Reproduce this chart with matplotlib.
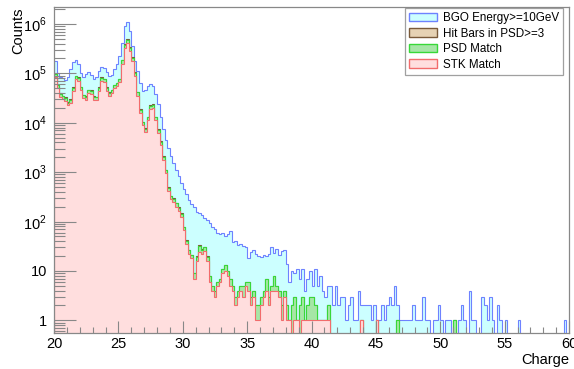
import numpy as np
import matplotlib
matplotlib.use("Agg")
import matplotlib.pyplot as plt
from matplotlib.patches import Patch

plt.rcParams['font.family'] = ['Liberation Sans', 'DejaVu Sans']
plt.rcParams['mathtext.fontset'] = 'custom'
plt.rcParams['mathtext.rm'] = 'Liberation Sans'

# charge histogram, 200 bins from 20 to 60
edges = np.linspace(20, 60, 201)

bgo = [
    178000, 100000, 83000, 79000, 74000, 83000, 120000, 166000, 186000, 151000,
    100000, 85000, 95000, 105000, 93000, 78000, 83000, 112000, 132000, 126000,
    105000, 89000, 93000, 120000, 158000, 224000, 417000, 891000, 1096000, 708000,
    355000, 178000, 112000, 63000, 44000, 46000, 56000, 62000, 55000, 38000,
    24000, 13200, 7600, 4570, 3020, 2090, 1510, 1120, 850, 600,
    457, 355, 275, 229, 200, 158, 151, 138, 117, 110,
    95, 79, 71, 60, 55, 58, 52, 56, 63, 38,
    40, 33, 35, 32, 30, 18, 24, 26, 22, 20,
    19, 21, 20, 22, 30, 23, 28, 21, 25, 26,
    14, 6, 10, 9, 11, 7, 11, 4, 7, 10,
    5, 11, 5, 8, 4, 3, 5, 5, 2, 5,
    2, 3, 3, 1, 2, 3, 1, 1, 4, 2,
    2, 2, 2, 1, 2, 1, 1, 2, 1, 2,
    3, 2, 5, 2, 1, 1, 1, 1, 1, 2,
    1, 1, 1, 3, 1, 1, 0, 1, 1, 2,
    1, 0, 1, 1, 0, 1, 0, 1, 2, 1,
    0, 4, 1, 1, 0, 0, 3, 2, 1, 3,
    1, 0, 2, 1, 0, 1, 0, 0, 0, 0,
    1, 0, 0, 0, 0, 0, 0, 0, 0, 0,
    0, 0, 0, 0, 0, 0, 0, 0, 1, 0,
]

hit_bars = [
    98000, 59000, 39500, 35000, 33000, 26300, 30000, 52500, 90000, 83500,
    53500, 37000, 34000, 46500, 45000, 34000, 33500, 52500, 83500, 78500,
    52500, 41300, 47000, 59000, 65000, 78500, 188000, 392000, 495000, 334000,
    211000, 105000, 42300, 18800, 10500, 7800, 13300, 22500, 23700, 13300,
    7400, 4200, 2110, 1130, 495, 335, 298, 238, 195, 149,
    78, 42, 27, 21, 9, 20, 33, 28, 31, 20,
    8, 5, 4, 6, 7, 11, 13, 10, 7, 5,
    3, 4, 5, 5, 6, 6, 3, 4, 2, 2,
    3, 4, 7, 3, 5, 8, 5, 4, 2, 4,
    2, 1, 2, 3, 1, 2, 3, 1, 2, 3,
    3, 2, 1, 1, 1, 1, 2, 0, 0, 0,
    0, 0, 0, 0, 0, 0, 0, 0, 0, 1,
    0, 0, 0, 0, 0, 1, 0, 0, 0, 0,
    0, 0, 0, 1, 0, 0, 0, 0, 0, 0,
    0, 0, 0, 0, 0, 0, 0, 0, 0, 0,
    0, 0, 0, 0, 0, 1, 0, 0, 0, 0,
    0, 0, 0, 0, 0, 0, 0, 0, 0, 0,
    0, 0, 0, 0, 0, 0, 0, 0, 0, 0,
    0, 0, 0, 0, 0, 0, 0, 0, 0, 0,
    0, 0, 0, 0, 0, 0, 0, 0, 0, 0,
]

psd_match = [
    95000, 57000, 38000, 34000, 32000, 25500, 29000, 51000, 87000, 81000,
    52000, 36000, 33000, 45000, 43500, 33000, 32500, 51000, 81000, 76000,
    51000, 40000, 45500, 57500, 63000, 76000, 182000, 380000, 480000, 324000,
    205000, 102000, 41000, 18200, 10200, 7600, 12900, 21800, 23000, 12900,
    7200, 4100, 2050, 1100, 480, 325, 290, 232, 190, 145,
    76, 41, 26, 21, 9, 19, 32, 27, 30, 19,
    8, 5, 4, 6, 7, 11, 13, 10, 7, 5,
    3, 4, 5, 5, 6, 6, 3, 4, 2, 2,
    3, 4, 7, 3, 5, 8, 5, 4, 2, 4,
    2, 1, 2, 3, 1, 2, 3, 1, 2, 3,
    3, 2, 1, 1, 1, 1, 2, 0, 0, 0,
    0, 0, 0, 0, 0, 0, 0, 0, 0, 1,
    0, 0, 0, 0, 0, 1, 0, 0, 0, 0,
    0, 0, 0, 1, 0, 0, 0, 0, 0, 0,
    0, 0, 0, 0, 0, 0, 0, 0, 0, 0,
    0, 0, 0, 0, 0, 1, 0, 0, 0, 0,
    0, 0, 0, 0, 0, 0, 0, 0, 0, 0,
    0, 0, 0, 0, 0, 0, 0, 0, 0, 0,
    0, 0, 0, 0, 0, 0, 0, 0, 0, 0,
    0, 0, 0, 0, 0, 0, 0, 0, 0, 0,
]

stk_match = [
    83000, 50000, 33000, 30000, 28000, 22400, 25100, 44700, 75900, 70800,
    45700, 31600, 28800, 39800, 38000, 28800, 28200, 44700, 70800, 66100,
    44700, 34700, 39800, 50100, 55000, 66000, 158000, 331000, 417000, 282000,
    178000, 89000, 35500, 15800, 8900, 6600, 11200, 19000, 20000, 11200,
    6300, 3550, 1780, 955, 417, 282, 251, 200, 166, 126,
    66, 35, 22, 18, 7, 16, 24, 22, 25, 16,
    6, 4, 3, 5, 6, 9, 10, 8, 5, 4,
    2, 3, 4, 3, 5, 4, 2, 3, 1, 1,
    2, 3, 4, 2, 4, 4, 4, 3, 1, 3,
    1, 1, 0, 1, 1, 0, 1, 1, 1, 1,
    1, 1, 1, 1, 1, 1, 1, 0, 0, 0,
    0, 0, 0, 0, 0, 0, 0, 0, 0, 1,
    0, 0, 0, 0, 0, 1, 0, 0, 0, 0,
    0, 0, 0, 0, 0, 0, 0, 0, 0, 0,
    0, 0, 0, 0, 0, 0, 0, 0, 0, 0,
    0, 0, 0, 0, 0, 0, 0, 0, 0, 0,
    0, 0, 0, 0, 0, 0, 0, 0, 0, 0,
    0, 0, 0, 0, 0, 0, 0, 0, 0, 0,
    0, 0, 0, 0, 0, 0, 0, 0, 0, 0,
    0, 0, 0, 0, 0, 0, 0, 0, 0, 0,
]

labels = ['BGO Energy>=10GeV', 'Hit Bars in PSD>=3', 'PSD Match', 'STK Match']
fills = ['#ccffff', '#e6d2b4', '#a6e6a6', '#ffdede']
lines = ['#6e82ff', '#7a5a3a', '#38d838', '#f26c6c']

fig = plt.figure(figsize=(5.74, 3.69), dpi=100)
ax = fig.add_axes([54/574, 1-333/369, 515/574, 326/369])
ax.set_yscale('log')

for vals, fc, lc in zip([bgo, hit_bars, psd_match, stk_match], fills, lines):
    v = np.array(vals, dtype=float)
    v[v <= 0] = 1e-3
    ax.stairs(v, edges, baseline=1e-3, fill=True, color=fc, lw=0)
    ax.stairs(v, edges, baseline=1e-3, fill=False, color=lc, lw=0.8)

ax.set_xlim(20, 60)
ax.set_ylim(0.555, 2.2e6)

# ROOT-like axes: inward ticks on bottom/left only
ax.set_xticks(np.arange(20, 61, 5))
ax.set_xticks(np.arange(20, 61, 1), minor=True)
ax.set_yticks([1, 10, 1e2, 1e3, 1e4, 1e5, 1e6])
ax.set_yticklabels(['1', '10', '$10^{2}$', '$10^{3}$', '$10^{4}$', '$10^{5}$', '$10^{6}$'])
ax.yaxis.set_minor_locator(matplotlib.ticker.LogLocator(base=10, subs=np.arange(2, 10)))
ax.yaxis.set_minor_formatter(matplotlib.ticker.NullFormatter())
ax.tick_params(axis='x', which='major', direction='in', length=9, width=0.8,
               color='#888888', labelsize=10.5, pad=3)
ax.tick_params(axis='x', which='minor', direction='in', length=4.5, width=0.8, color='#888888')
ax.tick_params(axis='y', which='major', direction='in', length=16, width=0.8,
               color='#888888', labelsize=10.5, pad=5)
ax.tick_params(axis='y', which='minor', direction='in', length=8, width=0.8, color='#888888')
for s in ax.spines.values():
    s.set_color('#888888')
    s.set_linewidth(0.9)

fig.text(18/574, 1-8/369, 'Counts', rotation=90, ha='center', va='top', fontsize=10.5)
fig.text(569/574, 1-367/369, 'Charge', ha='right', va='bottom', fontsize=10.5)

handles = [Patch(facecolor=fc, edgecolor=lc, lw=1.0) for fc, lc in zip(fills, lines)]
leg = fig.legend(handles, labels, loc='upper right', bbox_to_anchor=(563/574, 1-8/369),
                 fontsize=8.4, frameon=True, fancybox=False, borderaxespad=0,
                 handlelength=2.4, handleheight=0.8, labelspacing=0.3,
                 handletextpad=0.5, borderpad=0.35)
leg.get_frame().set_edgecolor('#888888')
leg.get_frame().set_linewidth(0.9)

fig.savefig('out.png', dpi=100)
